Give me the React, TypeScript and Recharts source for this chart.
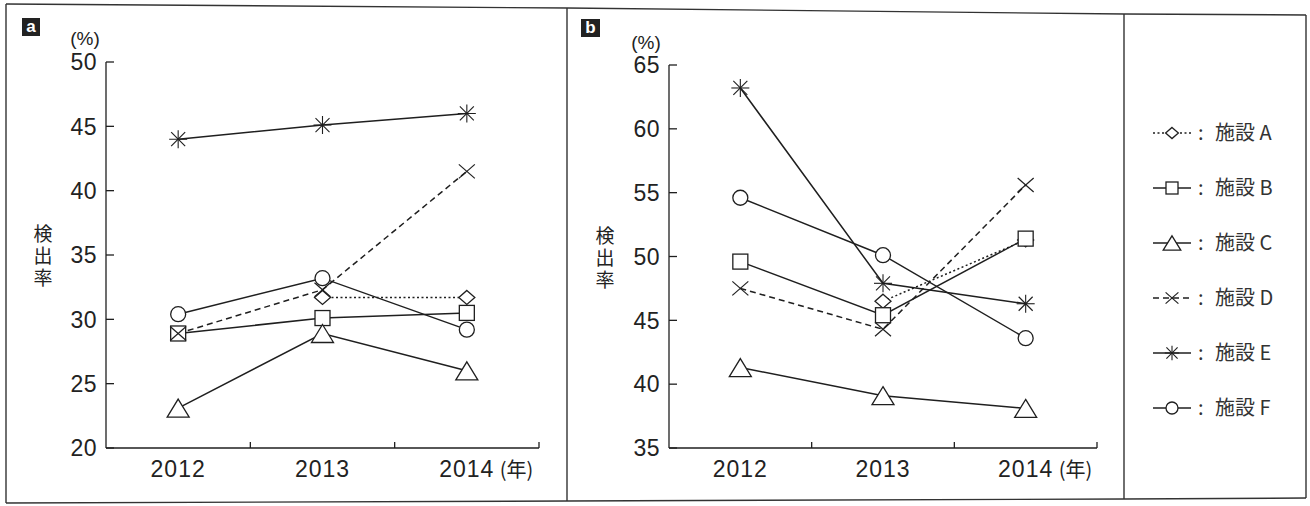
import React from 'react';
import { LineChart, Line, XAxis, YAxis } from 'recharts';

// ---- data ----
const years = ['2012', '2013', '2014'];
const yearUnit = '(年)';
const yAxisTitle = '検出率';
const unitLabel = '(%)';
const facilityKeys = ['A', 'B', 'C', 'D', 'E', 'F'];
const facilityLabels = ['施設 A', '施設 B', '施設 C', '施設 D', '施設 E', '施設 F'];

const yTicksA = [20, 25, 30, 35, 40, 45, 50];
const yTicksB = [35, 40, 45, 50, 55, 60, 65];

// panel a
const aA = [null, 31.7, 31.7];
const aB = [28.9, 30.1, 30.5];
const aC = [23.1, 28.9, 26.0];
const aD = [28.9, 32.3, 41.5];
const aE = [44.0, 45.1, 46.0];
const aF = [30.4, 33.2, 29.2];

// panel b
const bA = [null, 46.5, 51.3];
const bB = [49.6, 45.4, 51.4];
const bC = [41.3, 39.1, 38.1];
const bD = [47.5, 44.3, 55.6];
const bE = [63.2, 47.9, 46.3];
const bF = [54.6, 50.1, 43.6];

const buildRows = (series: (number | null)[][]) =>
  years.map((y, i) => {
    const row: any = { year: y };
    facilityKeys.forEach((k, j) => {
      row[k] = series[j][i];
    });
    return row;
  });

const rowsA = buildRows([aA, aB, aC, aD, aE, aF]);
const rowsB = buildRows([bA, bB, bC, bD, bE, bF]);

// ---- styles ----
const INK = '#1f1f1f';
const NUM_FONT = '"Liberation Sans", Arial, Helvetica, sans-serif';
const JP_FONT = '"Noto Sans CJK JP", "Liberation Sans", sans-serif';

const shapes = ['diamond', 'square', 'triangle', 'cross', 'asterisk', 'circle'];
const dashes = ['2 2.5', undefined, undefined, '6 4', undefined, undefined];

function Marker({ shape, cx, cy, s = 1 }: { shape: string; cx: number; cy: number; s?: number }) {
  const sw = 1.3;
  switch (shape) {
    case 'diamond':
      return (
        <polygon
          points={`${cx},${cy - 7 * s} ${cx + 8 * s},${cy} ${cx},${cy + 7 * s} ${cx - 8 * s},${cy}`}
          fill="#fff"
          stroke={INK}
          strokeWidth={sw}
        />
      );
    case 'square':
      return <rect x={cx - 7.5 * s} y={cy - 7.5 * s} width={15 * s} height={15 * s} fill="#fff" stroke={INK} strokeWidth={sw} />;
    case 'triangle':
      return (
        <polygon
          points={`${cx},${cy - 9 * s} ${cx + 11 * s},${cy + 9 * s} ${cx - 11 * s},${cy + 9 * s}`}
          fill="#fff"
          stroke={INK}
          strokeWidth={sw}
        />
      );
    case 'cross':
      return (
        <g stroke={INK} strokeWidth={1.2}>
          <line x1={cx - 8 * s} y1={cy - 7 * s} x2={cx + 8 * s} y2={cy + 7 * s} />
          <line x1={cx - 8 * s} y1={cy + 7 * s} x2={cx + 8 * s} y2={cy - 7 * s} />
        </g>
      );
    case 'asterisk':
      return (
        <g stroke={INK} strokeWidth={1.1}>
          <line x1={cx - 7 * s} y1={cy - 7 * s} x2={cx + 7 * s} y2={cy + 7 * s} />
          <line x1={cx - 7 * s} y1={cy + 7 * s} x2={cx + 7 * s} y2={cy - 7 * s} />
          <line x1={cx} y1={cy - 9 * s} x2={cx} y2={cy + 9 * s} />
          <line x1={cx - 9 * s} y1={cy} x2={cx + 9 * s} y2={cy} />
        </g>
      );
    case 'circle':
    default:
      return <circle cx={cx} cy={cy} r={7.5 * s} fill="#fff" stroke={INK} strokeWidth={sw} />;
  }
}

const makeDot = (shape: string) => (p: any) => {
  const key = `${shape}-${p.index}`;
  if (p.cx == null || p.cy == null || p.value == null || Number.isNaN(p.cy)) return <g key={key} />;
  return (
    <g key={key}>
      <Marker shape={shape} cx={p.cx} cy={p.cy} />
    </g>
  );
};

function YTick(props: any) {
  const { x, y, payload } = props;
  const axisX = x + 9;
  return (
    <g>
      <line x1={axisX} y1={y} x2={axisX + 8} y2={y} stroke={INK} strokeWidth={1.3} />
      <text x={x} y={y} dy="0.36em" textAnchor="end" fontSize={23} letterSpacing={0.5} fontFamily={NUM_FONT} fill="#222">
        {payload.value}
      </text>
    </g>
  );
}

const makeXTick = (bw: number) => (props: any) => {
  const { x, y, payload, index } = props;
  const bx = x + bw / 2;
  const last = index === years.length - 1;
  return (
    <g>
      <line x1={bx} y1={y} x2={bx} y2={y - 6} stroke={INK} strokeWidth={1.3} />
      <text x={x} y={y + 29} textAnchor="middle" fontSize={23} letterSpacing={1} fontFamily={NUM_FONT} fill="#222">
        {payload.value}
      </text>
      {last ? (
        <text x={x + 33} y={y + 29} textAnchor="start" fontSize={20} fontFamily={JP_FONT} fill="#222">
          {yearUnit}
        </text>
      ) : null}
    </g>
  );
};

function Panel({
  rows,
  ticks,
  width,
  margin,
}: {
  rows: any[];
  ticks: number[];
  width: number;
  margin: { top: number; right: number; bottom: number; left: number };
}) {
  const yW = 50;
  const xH = 40;
  const plotW = width - margin.left - margin.right - yW;
  const bw = plotW / years.length;
  return (
    <LineChart width={width} height={506} data={rows} margin={margin}>
      <XAxis
        dataKey="year"
        scale="band"
        height={xH}
        interval={0}
        axisLine={{ stroke: INK, strokeWidth: 1.3 }}
        tickLine={false}
        tickSize={0}
        tickMargin={0}
        tick={makeXTick(bw)}
      />
      <YAxis
        type="number"
        domain={[ticks[0], ticks[ticks.length - 1]]}
        ticks={ticks}
        interval={0}
        width={yW}
        allowDataOverflow
        axisLine={{ stroke: INK, strokeWidth: 1.3 }}
        tickLine={false}
        tickSize={0}
        tickMargin={9}
        tick={YTick}
      />
      {facilityKeys.map((k, i) => (
        <Line
          key={k}
          dataKey={k}
          type="linear"
          stroke={INK}
          strokeWidth={1.5}
          strokeDasharray={dashes[i]}
          dot={makeDot(shapes[i])}
          activeDot={false}
          isAnimationActive={false}
        />
      ))}
    </LineChart>
  );
}

function Overlay() {
  const legendY0 = 133;
  const legendStep = 55;
  return (
    <svg
      width={1310}
      height={506}
      style={{ position: 'absolute', left: 0, top: 0, pointerEvents: 'none' }}
    >
      {/* frame */}
      <g stroke="#333" strokeWidth={1.4} fill="none">
        <polyline points="6,4 567,8 1124,14 1306,15" />
        <polyline points="6,503 567,501 1124,499 1306,498" />
        <line x1={6} y1={4} x2={6} y2={503} />
        <line x1={567} y1={8} x2={567} y2={501} />
        <line x1={1124} y1={14} x2={1124} y2={499} />
        <line x1={1306} y1={15} x2={1306} y2={498} />
      </g>

      {/* panel badges */}
      <rect x={22} y={18} width={18} height={18} fill="#222" />
      <text x={31} y={32} textAnchor="middle" fontSize={17} fontWeight="bold" fontFamily={NUM_FONT} fill="#fff">
        a
      </text>
      <rect x={581} y={19} width={19} height={18} fill="#222" />
      <text x={590.5} y={33} textAnchor="middle" fontSize={17} fontWeight="bold" fontFamily={NUM_FONT} fill="#fff">
        b
      </text>

      {/* unit labels */}
      <text x={85} y={45} textAnchor="middle" fontSize={19} fontFamily={NUM_FONT} fill="#222">
        {unitLabel}
      </text>
      <text x={646} y={49} textAnchor="middle" fontSize={19} fontFamily={NUM_FONT} fill="#222">
        {unitLabel}
      </text>

      {/* vertical axis titles */}
      <text
        x={43}
        y={224}
        fontSize={19}
        letterSpacing={3}
        fontFamily={JP_FONT}
        fill="#222"
        style={{ writingMode: 'vertical-rl' as any }}
      >
        {yAxisTitle}
      </text>
      <text
        x={605}
        y={226}
        fontSize={19}
        letterSpacing={3}
        fontFamily={JP_FONT}
        fill="#222"
        style={{ writingMode: 'vertical-rl' as any }}
      >
        {yAxisTitle}
      </text>

      {/* legend */}
      {facilityKeys.map((k, i) => {
        const y = legendY0 + i * legendStep;
        return (
          <g key={`lg${k}`}>
            <line x1={1153} y1={y} x2={1191} y2={y} stroke={INK} strokeWidth={1.3} strokeDasharray={dashes[i]} />
            <Marker shape={shapes[i]} cx={1172} cy={y} s={0.8} />
            <text x={1198} y={y + 7} fontSize={20} fontFamily={JP_FONT} fill="#333">
              :
            </text>
            <text x={1215} y={y + 7} fontSize={20} fontFamily={JP_FONT} fill="#333">
              {facilityLabels[i]}
            </text>
          </g>
        );
      })}
    </svg>
  );
}

export default function App() {
  return (
    <div
      style={{
        position: 'absolute',
        left: 0,
        top: 0,
        width: 1310,
        height: 506,
        background: '#fff',
        overflow: 'hidden',
      }}
    >
      <div style={{ position: 'absolute', left: 0, top: 0 }}>
        <Panel rows={rowsA} ticks={yTicksA} width={567} margin={{ top: 62, right: 28, bottom: 18, left: 56 }} />
      </div>
      <div style={{ position: 'absolute', left: 567, top: 0 }}>
        <Panel rows={rowsB} ticks={yTicksB} width={557} margin={{ top: 65, right: 27, bottom: 18, left: 52 }} />
      </div>
      <Overlay />
    </div>
  );
}
